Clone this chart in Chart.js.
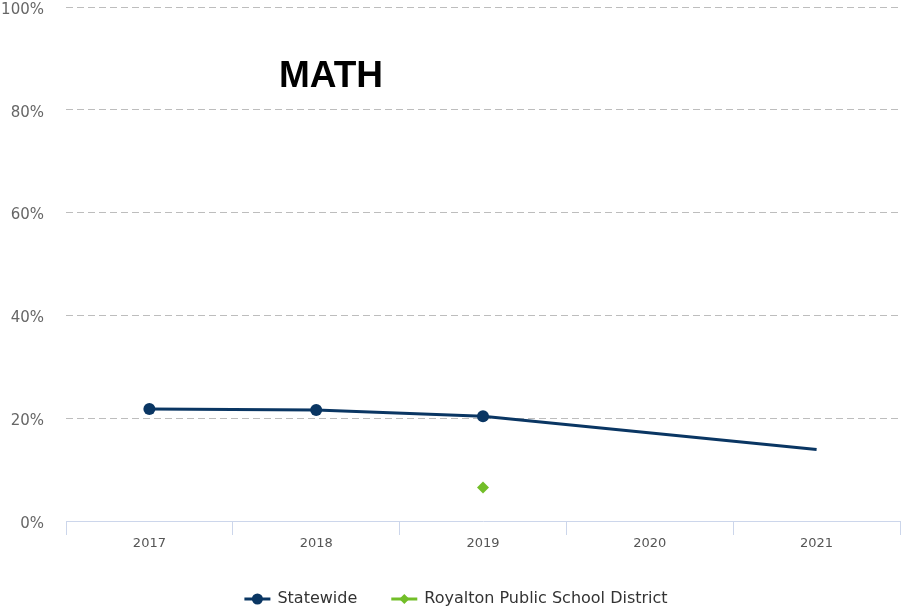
<!DOCTYPE html>
<html>
<head>
<meta charset="utf-8">
<script src="https://cdn.jsdelivr.net/npm/chart.js@4/dist/chart.umd.min.js"></script>
<style>
  html, body { margin: 0; padding: 0; background: #fff; }
  #wrap { width: 902px; height: 608px; position: relative; }
</style>
</head>
<body>
<div id="wrap"><canvas id="c" width="902" height="608"></canvas></div>
<script>
// Proficiency rates by school year (percent)
const years = ['2017', '2018', '2019', '2020', '2021'];
const statewide = [21.8, 21.6, 20.4, null, 13.9];
const royalton = [null, null, 6.5, null, null];
const statewideMarkers = [6, 6, 6, 0, 0];
const yTicks = [0, 20, 40, 60, 80, 100];

const NAVY = '#0a3663';
const GREEN = '#72be28';

// Title placed over the upper-left part of the plot
const titlePlugin = {
  id: 'mathTitle',
  afterDraw(chart) {
    const ctx = chart.ctx;
    ctx.save();
    ctx.font = 'bold 37px "Liberation Sans", Arial, sans-serif';
    ctx.fillStyle = '#000';
    ctx.textAlign = 'center';
    ctx.textBaseline = 'middle';
    ctx.fillText('MATH', 331, 77);
    ctx.restore();
  }
};

// Legend with line-and-marker symbols, centred under the axis
const legendPlugin = {
  id: 'lineLegend',
  afterDraw(chart) {
    const ctx = chart.ctx;
    const items = chart.data.datasets.map(ds => ({
      label: ds.label, color: ds.borderColor, style: ds.pointStyle
    }));
    ctx.save();
    ctx.font = '16px "DejaVu Sans", Verdana, sans-serif';
    ctx.textBaseline = 'middle';
    const symW = 26, gapSym = 7, gapItem = 34;
    const widths = items.map(it => symW + gapSym + ctx.measureText(it.label).width);
    const total = widths.reduce((a, b) => a + b, 0) + gapItem * (items.length - 1);
    let x = 456 - total / 2;
    const y = 599;
    items.forEach((it, i) => {
      ctx.strokeStyle = it.color;
      ctx.fillStyle = it.color;
      ctx.lineWidth = 3;
      ctx.beginPath();
      ctx.moveTo(x, y);
      ctx.lineTo(x + symW, y);
      ctx.stroke();
      const cx = x + symW / 2;
      ctx.beginPath();
      if (it.style === 'rectRot') {
        const r = 5;
        ctx.moveTo(cx, y - r); ctx.lineTo(cx + r, y); ctx.lineTo(cx, y + r); ctx.lineTo(cx - r, y);
        ctx.closePath();
      } else {
        ctx.arc(cx, y, 5.5, 0, Math.PI * 2);
      }
      ctx.fill();
      ctx.fillStyle = '#333';
      ctx.textAlign = 'left';
      ctx.fillText(it.label, x + symW + gapSym, y);
      x += widths[i] + gapItem;
    });
    ctx.restore();
  }
};

new Chart(document.getElementById('c'), {
  type: 'line',
  data: {
    labels: years,
    datasets: [
      {
        label: 'Statewide',
        data: statewide,
        borderColor: NAVY,
        backgroundColor: NAVY,
        borderWidth: 3,
        pointStyle: 'circle',
        pointRadius: statewideMarkers,
        pointHoverRadius: statewideMarkers,
        pointBorderWidth: 0,
        spanGaps: true,
        tension: 0
      },
      {
        label: 'Royalton Public School District',
        data: royalton,
        borderColor: GREEN,
        backgroundColor: GREEN,
        borderWidth: 3,
        pointStyle: 'rectRot',
        pointRadius: 6,
        pointBorderWidth: 0,
        showLine: false
      }
    ]
  },
  options: {
    responsive: false,
    animation: false,
    devicePixelRatio: 1,
    layout: { autoPadding: false, padding: { top: 7, right: 2, bottom: 0, left: 0 } },
    plugins: {
      legend: { display: false },
      title: { display: false },
      tooltip: { enabled: false }
    },
    scales: {
      x: {
        type: 'category',
        offset: true,
        grid: {
          offset: true,
          drawOnChartArea: false,
          drawTicks: true,
          tickLength: 14,
          color: '#ccd6eb',
          lineWidth: 1
        },
        border: { display: true, color: '#ccd6eb', width: 1 },
        ticks: {
          color: '#555',
          padding: 1,
          font: { family: '"DejaVu Sans", Verdana, sans-serif', size: 13 },
          maxRotation: 0
        },
        afterFit(scale) {
          scale.height = 87;
          scale.paddingLeft = 0;
          scale.paddingRight = 0;
        }
      },
      y: {
        min: 0,
        max: 100,
        afterBuildTicks(scale) { scale.ticks = yTicks.map(v => ({ value: v })); },
        grid: {
          color: '#bdbdbd',
          lineWidth: 1,
          drawTicks: false
        },
        border: { display: false, dash: [7, 4] },
        ticks: {
          color: '#666',
          padding: 22,
          labelOffset: 3,
          font: { family: '"DejaVu Sans", Verdana, sans-serif', size: 15 },
          callback: v => v + '%'
        },
        afterFit(scale) {
          scale.width = 66;
          scale.paddingTop = 0;
          scale.paddingBottom = 0;
        }
      }
    }
  },
  plugins: [titlePlugin, legendPlugin]
});
</script>
</body>
</html>
